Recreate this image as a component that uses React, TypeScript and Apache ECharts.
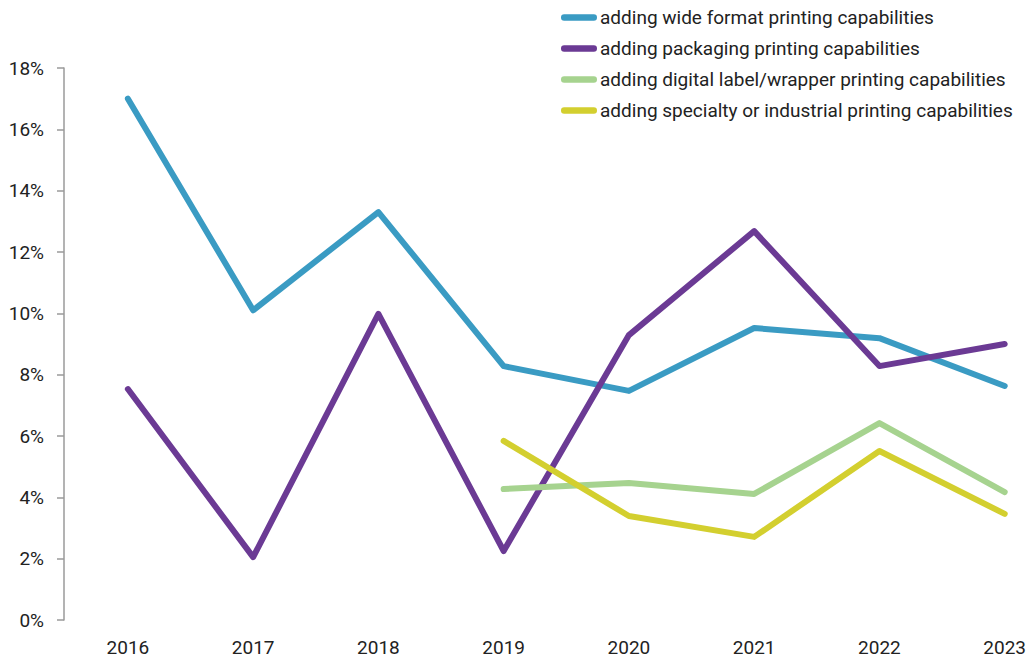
import React, { useEffect, useRef } from "react";
import * as echarts from "echarts";

const years = [2016, 2017, 2018, 2019, 2020, 2021, 2022, 2023];
const wideFormat = [17.0, 10.1, 13.3, 8.28, 7.47, 9.52, 9.19, 7.63];
const packaging = [7.53, 2.05, 9.98, 2.25, 9.29, 12.68, 8.28, 9.0];
const digitalLabel = [null, null, null, 4.27, 4.47, 4.11, 6.42, 4.17];
const specialty = [null, null, null, 5.84, 3.39, 2.71, 5.51, 3.46];

const seriesNames = [
  "adding wide format printing capabilities",
  "adding packaging printing capabilities",
  "adding digital label/wrapper printing capabilities",
  "adding specialty or industrial printing capabilities",
];
const colors = ["#3a9bc3", "#6b3a94", "#a6d38f", "#d3cf2f"];

const legendIcon = "path://M3,0 H31 A3,3 0 0 1 31,6 H3 A3,3 0 0 1 3,0 Z";

export default function App() {
  const ref = useRef<HTMLDivElement>(null);
  useEffect(() => {
    document.body.style.margin = "0";
    if (!ref.current) return;
    const chart = echarts.init(ref.current, undefined, { renderer: "svg" });
    const datasets = [wideFormat, packaging, digitalLabel, specialty];
    chart.setOption({
      animation: false,
      textStyle: { fontFamily: "Roboto, sans-serif" },
      legend: {
        orient: "vertical",
        left: 556,
        top: 3,
        itemWidth: 36,
        itemHeight: 7,
        itemGap: 12,
        icon: legendIcon,
        textStyle: { fontSize: 19, color: "#222", padding: [0, 0, 0, -2] },
        data: seriesNames,
      },
      grid: { left: 64, top: 68, bottom: 41, right: 0, containLabel: false },
      xAxis: {
        type: "value",
        min: 2015.49,
        max: 2023.21,
        splitLine: { show: false },
        axisLine: { show: false },
        axisTick: { show: false },
        axisLabel: {
          fontSize: 19,
          color: "#222",
          margin: 18,
          customValues: years,
          formatter: (v: number) => String(v),
        },
      },
      yAxis: {
        type: "value",
        min: 0,
        max: 18,
        interval: 2,
        splitLine: { show: false },
        axisLine: { show: true, lineStyle: { color: "#9a9a9a", width: 1.5 } },
        axisTick: { show: true, length: 7, inside: false, lineStyle: { color: "#9a9a9a", width: 1.5 } },
        axisLabel: { fontSize: 19, color: "#222", margin: 20, formatter: "{value}%" },
      },
      series: datasets.map((d, i) => ({
        name: seriesNames[i],
        type: "line",
        data: years.map((y, j) => [y, d[j]]),
        showSymbol: false,
        symbol: "none",
        connectNulls: false,
        color: colors[i],
        lineStyle: { width: 6, color: colors[i], cap: "round", join: "round" },
        z: 2 + i,
      })),
    });
    return () => chart.dispose();
  }, []);
  return <div ref={ref} style={{ width: 1031, height: 661 }} />;
}
